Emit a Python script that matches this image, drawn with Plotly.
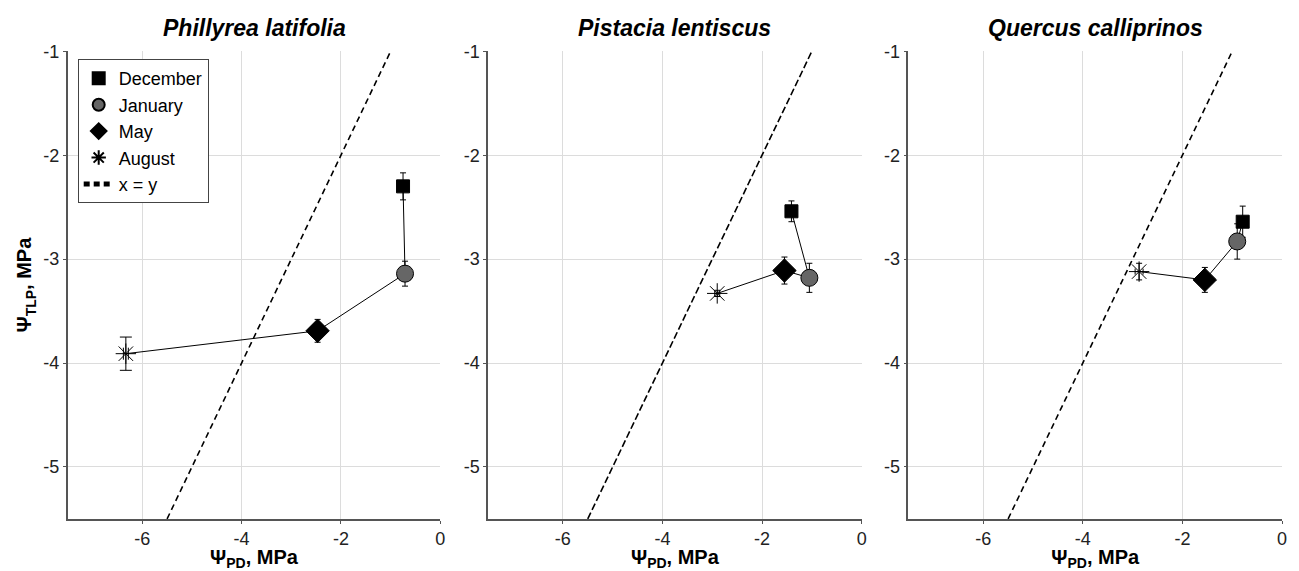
import plotly.graph_objects as go

# Sampling months, in the order the trajectory is drawn
months = ["December", "January", "May", "August"]
species = ["Phillyrea latifolia", "Pistacia lentiscus", "Quercus calliprinos"]

# Predawn water potential (x) and turgor-loss point (y), MPa, with SE
phil_pd = [-0.75, -0.71, -2.47, -6.33]
phil_tlp = [-2.30, -3.14, -3.69, -3.91]
phil_pd_err = [0.03, 0.05, 0.12, 0.05]
phil_tlp_err = [0.13, 0.12, 0.11, 0.16]

pist_pd = [-1.41, -1.05, -1.55, -2.90]
pist_tlp = [-2.54, -3.18, -3.11, -3.33]
pist_pd_err = [0.04, 0.05, 0.12, 0.05]
pist_tlp_err = [0.10, 0.14, 0.13, 0.03]

quer_pd = [-0.79, -0.90, -1.55, -2.87]
quer_tlp = [-2.64, -2.83, -3.20, -3.12]
quer_pd_err = [0.03, 0.05, 0.05, 0.08]
quer_tlp_err = [0.15, 0.17, 0.12, 0.08]

# 1:1 reference line end points
identity_xy = [-5.5, -1.0]

x_ticks = [-6, -4, -2, 0]
y_ticks = [-5, -4, -3, -2, -1]

panels = [
    (phil_pd, phil_tlp, phil_pd_err, phil_tlp_err),
    (pist_pd, pist_tlp, pist_pd_err, pist_tlp_err),
    (quer_pd, quer_tlp, quer_pd_err, quer_tlp_err),
]

W, H = 1299, 571
x_domains = [(68 / W, 442 / W), (490 / W, 865 / W), (912 / W, 1287 / W)]
y_domain = (1 - 518 / H, 1 - 42 / H)

marker_styles = {
    "December": dict(symbol="square", size=13, color="black",
                     line=dict(color="black", width=1)),
    "January": dict(symbol="circle", size=17, color="#666666",
                    line=dict(color="black", width=1)),
    "May": dict(symbol="diamond", size=18, color="black",
                line=dict(color="black", width=1)),
    "August": dict(symbol="asterisk-open", size=17, color="black",
                   line=dict(color="black", width=1)),
}

FONT = "Liberation Sans, Arial, sans-serif"
fig = go.Figure()

for i, (px, py, pxe, pye) in enumerate(panels):
    xa = "x" if i == 0 else f"x{i + 1}"
    ya = "y" if i == 0 else f"y{i + 1}"

    # trajectory connecting the months
    fig.add_trace(go.Scatter(
        x=px, y=py, mode="lines", xaxis=xa, yaxis=ya,
        line=dict(color="black", width=1), showlegend=False,
        hoverinfo="skip"))

    # 1:1 line
    fig.add_trace(go.Scatter(
        x=identity_xy, y=identity_xy, mode="lines", xaxis=xa, yaxis=ya,
        name="x = y", showlegend=(i == 0), legendrank=5,
        line=dict(color="black", width=1.6,
                  dash="7px,3px" if i == 1 else "6px,4px")))

    for j, m in enumerate(months):
        cap = 6 if (i == 0 and m == "August") else 3
        fig.add_trace(go.Scatter(
            x=[px[j]], y=[py[j]], mode="markers", xaxis=xa, yaxis=ya,
            name=m, showlegend=(i == 0), legendrank=j + 1,
            marker=marker_styles[m],
            error_y=dict(type="data", array=[pye[j]], color="black",
                         thickness=1, width=cap),
            error_x=dict(type="data", array=[pxe[j]], color="black",
                         thickness=1, width=cap)))

axis_common = dict(
    showgrid=True, gridcolor="#dcdcdc", gridwidth=1,
    showline=True, linecolor="#555555", linewidth=1.5,
    ticks="outside", ticklen=3, tickcolor="#555555",
    zeroline=False, tickfont=dict(family=FONT, size=18, color="#222222"),
)

layout_axes = {}
for i in range(3):
    xk = "xaxis" if i == 0 else f"xaxis{i + 1}"
    yk = "yaxis" if i == 0 else f"yaxis{i + 1}"
    ya = "y" if i == 0 else f"y{i + 1}"
    xa = "x" if i == 0 else f"x{i + 1}"
    layout_axes[xk] = dict(
        axis_common, domain=list(x_domains[i]), anchor=ya,
        range=[-7.5, 0], tickvals=x_ticks, ticktext=[str(v) for v in x_ticks],
        title=dict(text="<b>Ψ<sub>PD</sub>, MPa</b>", standoff=2,
                   font=dict(family=FONT, size=20, color="black")))
    ytitle = dict(text="<b>Ψ<sub>TLP</sub>, MPa</b>", standoff=6,
                  font=dict(family=FONT, size=20, color="black")) if i == 0 else None
    layout_axes[yk] = dict(
        axis_common, domain=list(y_domain), anchor=xa,
        range=[-5.5, -1], tickvals=y_ticks, ticktext=[str(v) for v in y_ticks],
        title=ytitle)

annotations = []
for i, name in enumerate(species):
    d = x_domains[i]
    annotations.append(dict(
        text=f"<b><i>{name}</i></b>", x=(d[0] + d[1]) / 2, y=1 - 18 / H,
        xref="paper", yref="paper", xanchor="center", yanchor="middle",
        showarrow=False, font=dict(family=FONT, size=23, color="black")))

fig.update_layout(
    width=W, height=H,
    margin=dict(l=0, r=0, t=0, b=0),
    paper_bgcolor="white", plot_bgcolor="white",
    font=dict(family=FONT, color="black"),
    annotations=annotations,
    legend=dict(
        x=78 / W, y=1 - 50 / H, xanchor="left", yanchor="top",
        bgcolor="white", bordercolor="#444444", borderwidth=1,
        font=dict(family=FONT, size=18, color="black"),
        tracegroupgap=0, itemsizing="constant"),
    **layout_axes,
)

fig.write_html("out.html")
